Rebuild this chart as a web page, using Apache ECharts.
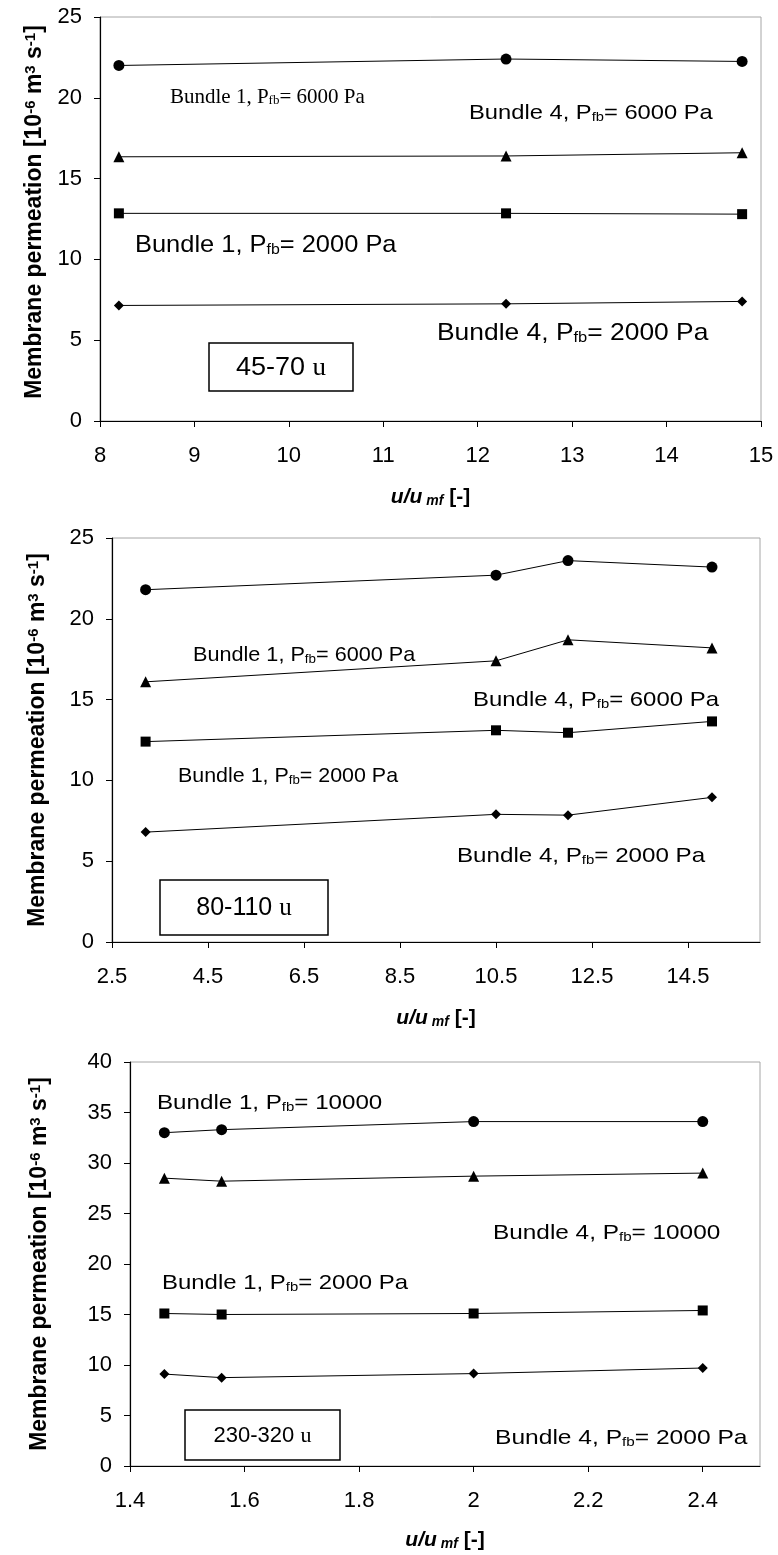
<!DOCTYPE html>
<html>
<head>
<meta charset="utf-8">
<script src="https://cdn.jsdelivr.net/npm/echarts@6/dist/echarts.min.js"></script>
<style>
html, body { margin: 0; padding: 0; background: #fff; }
#chart { width: 778px; height: 1555px; }
</style>
</head>
<body>
<div id="chart"></div>
<script>
// ---- Panel 1: 45-70 u particles ----
const p1X = [8.2, 12.3, 14.8];
const p1Bundle1High = [22.0, 22.4, 22.25];
const p1Bundle4High = [16.35, 16.4, 16.6];
const p1Bundle1Low = [12.85, 12.85, 12.8];
const p1Bundle4Low = [7.15, 7.25, 7.4];
const p1XTicks = [8, 9, 10, 11, 12, 13, 14, 15];
const p1YTicks = [0, 5, 10, 15, 20, 25];

// ---- Panel 2: 80-110 u particles ----
const p2X = [3.2, 10.5, 12.0, 15.0];
const p2Bundle1High = [21.8, 22.7, 23.6, 23.2];
const p2Bundle4High = [16.1, 17.4, 18.7, 18.2];
const p2Bundle1Low = [12.4, 13.1, 12.95, 13.65];
const p2Bundle4Low = [6.8, 7.9, 7.85, 8.95];
const p2XTicks = [2.5, 4.5, 6.5, 8.5, 10.5, 12.5, 14.5];
const p2YTicks = [0, 5, 10, 15, 20, 25];

// ---- Panel 3: 230-320 u particles ----
const p3X = [1.46, 1.56, 2.0, 2.4];
const p3Bundle1High = [33.0, 33.3, 34.1, 34.1];
const p3Bundle4High = [28.5, 28.2, 28.7, 29.0];
const p3Bundle1Low = [15.1, 15.0, 15.1, 15.4];
const p3Bundle4Low = [9.1, 8.75, 9.15, 9.7];
const p3XTicks = [1.4, 1.6, 1.8, 2.0, 2.2, 2.4];
const p3YTicks = [0, 5, 10, 15, 20, 25, 30, 35, 40];

// ---- Text ----
const yTitle = 'Membrane permeation [10{sup|-6} m{sup|3} s{sup|-1}]';
const xTitle = '{it|u/u}{sub| mf} [-]';

const SANS = 'Liberation Sans';
const SERIF = 'Liberation Serif';

const pairs = (xs, ys) => xs.map((x, i) => [x, ys[i]]);

// panel frames [left, top, width, height] and axis extents
const panels = [
  { rect: [100, 17, 661, 404], xMin: 8, xMax: 15, xTicks: p1XTicks, yMax: 25, yTicks: p1YTicks,
    xGap: 66, yGap: 53, yShift: 14, x: p1X, ys: [p1Bundle1High, p1Bundle4High, p1Bundle1Low, p1Bundle4Low] },
  { rect: [112, 538, 648, 404], xMin: 2.5, xMax: 16, xTicks: p2XTicks, yMax: 25, yTicks: p2YTicks,
    xGap: 66, yGap: 63, yShift: 0, x: p2X, ys: [p2Bundle1High, p2Bundle4High, p2Bundle1Low, p2Bundle4Low] },
  { rect: [130, 1062, 630, 404], xMin: 1.4, xMax: 2.5, xTicks: p3XTicks, yMax: 40, yTicks: p3YTicks,
    xGap: 64, yGap: 79, yShift: 0, x: p3X, ys: [p3Bundle1High, p3Bundle4High, p3Bundle1Low, p3Bundle4Low] }
];

const symbols = [
  { symbol: 'circle', size: 11 },
  { symbol: 'triangle', size: 11 },
  { symbol: 'rect', size: 10 },
  { symbol: 'diamond', size: 10 }
];

const grids = [], xAxes = [], yAxes = [], series = [];
panels.forEach((p, i) => {
  grids.push({
    left: p.rect[0], top: p.rect[1], width: p.rect[2], height: p.rect[3],
    show: true, borderColor: '#a6a6a6', borderWidth: 1, backgroundColor: 'transparent'
  });
  xAxes.push({
    gridIndex: i, type: 'value', min: p.xMin, max: p.xMax,
    axisLine: { show: true, onZero: false, lineStyle: { color: '#000', width: 1.2 } },
    axisTick: { show: true, length: 6, customValues: p.xTicks, lineStyle: { color: '#000' } },
    splitLine: { show: false },
    axisLabel: { customValues: p.xTicks, color: '#000', fontFamily: SANS, fontSize: 22, margin: 24 },
    name: xTitle, nameLocation: 'middle', nameGap: p.xGap,
    nameTextStyle: {
      color: '#000', fontFamily: SANS, fontSize: 21, fontWeight: 'bold',
      rich: {
        it: { fontFamily: SANS, fontSize: 21, fontWeight: 'bold', fontStyle: 'italic', color: '#000' },
        sub: { fontFamily: SANS, fontSize: 14, fontWeight: 'bold', fontStyle: 'italic', color: '#000',
               verticalAlign: 'bottom', lineHeight: 14 }
      }
    }
  });
  yAxes.push({
    gridIndex: i, type: 'value', min: 0, max: p.yMax, interval: 5,
    axisLine: { show: true, lineStyle: { color: '#000', width: 1.2 } },
    axisTick: { show: true, length: 6, lineStyle: { color: '#000' } },
    splitLine: { show: false },
    axisLabel: { color: '#000', fontFamily: SANS, fontSize: 22, margin: 18 },
    name: yTitle, nameLocation: 'middle', nameGap: p.yGap, nameRotate: 90,
    nameTextStyle: {
      color: '#000', fontFamily: SANS, fontSize: 23, fontWeight: 'bold',
      padding: [0, 0, 0, p.yShift],
      rich: {
        sup: { fontFamily: SANS, fontSize: 15, fontWeight: 'bold', color: '#000',
               verticalAlign: 'top', lineHeight: 13 }
      }
    }
  });
  p.ys.forEach((ys, k) => {
    series.push({
      type: 'line', xAxisIndex: i, yAxisIndex: i,
      data: pairs(p.x, ys),
      symbol: symbols[k].symbol, symbolSize: symbols[k].size,
      lineStyle: { color: '#000', width: 1 },
      itemStyle: { color: '#000' },
      silent: true
    });
  });
});

// annotation helper: text anchored at its left edge, vertically centred
function note(x, y, text, size, family, sx) {
  return {
    type: 'text', x: x, y: y, scaleX: sx || 1, z: 10,
    style: {
      text: text, fill: '#000', fontSize: size, fontFamily: family,
      align: 'left', verticalAlign: 'middle', textAlign: 'left', textVerticalAlign: 'middle',
      rich: {
        s: { fontSize: Math.round(size * 0.62), fontFamily: family, fill: '#000',
             verticalAlign: 'bottom', lineHeight: Math.round(size * 0.6) }
      }
    }
  };
}
// framed size-fraction label
function box(x, y, w, h, text, size, sx) {
  return [
    { type: 'rect', z: 9, shape: { x: x, y: y, width: w, height: h },
      style: { fill: '#fff', stroke: '#000', lineWidth: 1.5 } },
    { type: 'text', z: 10, x: x + w / 2, y: y + h / 2 + 1, scaleX: sx || 1,
      style: { text: text, fill: '#000', fontSize: size, fontFamily: SANS,
               align: 'center', verticalAlign: 'middle', textAlign: 'center', textVerticalAlign: 'middle',
               rich: { g: { fontSize: size, fontFamily: SERIF, fill: '#000' } } } }
  ];
}

const graphics = [
  note(170, 97, 'Bundle 1, P{s|fb}= 6000 Pa', 21, SERIF, 1.0),
  note(469, 113, 'Bundle 4, P{s|fb}= 6000 Pa', 21, SANS, 1.13),
  note(135, 245, 'Bundle 1, P{s|fb}= 2000 Pa', 24, SANS, 1.06),
  note(437, 333, 'Bundle 4, P{s|fb}= 2000 Pa', 24, SANS, 1.1),
  ...box(209, 343, 144, 48, '45-70 {g|u}', 25, 1.08),

  note(193, 655, 'Bundle 1, P{s|fb}= 6000 Pa', 21, SANS, 1.03),
  note(473, 700, 'Bundle 4, P{s|fb}= 6000 Pa', 21, SANS, 1.14),
  note(178, 776, 'Bundle 1, P{s|fb}= 2000 Pa', 21, SANS, 1.02),
  note(457, 856, 'Bundle 4, P{s|fb}= 2000 Pa', 21, SANS, 1.15),
  ...box(160, 880, 168, 55, '80-110 {g|u}', 25, 1.0),

  note(157, 1103, 'Bundle 1, P{s|fb}= 10000', 21, SANS, 1.15),
  note(493, 1233, 'Bundle 4, P{s|fb}= 10000', 21, SANS, 1.16),
  note(162, 1283, 'Bundle 1, P{s|fb}= 2000 Pa', 21, SANS, 1.14),
  note(495, 1438, 'Bundle 4, P{s|fb}= 2000 Pa', 21, SANS, 1.17),
  ...box(185, 1410, 155, 50, '230-320 {g|u}', 22, 1.0)
];

const chart = echarts.init(document.getElementById('chart'), null, { renderer: 'canvas' });
chart.setOption({
  animation: false,
  backgroundColor: '#fff',
  grid: grids,
  xAxis: xAxes,
  yAxis: yAxes,
  series: series,
  graphic: graphics
});
</script>
</body>
</html>
